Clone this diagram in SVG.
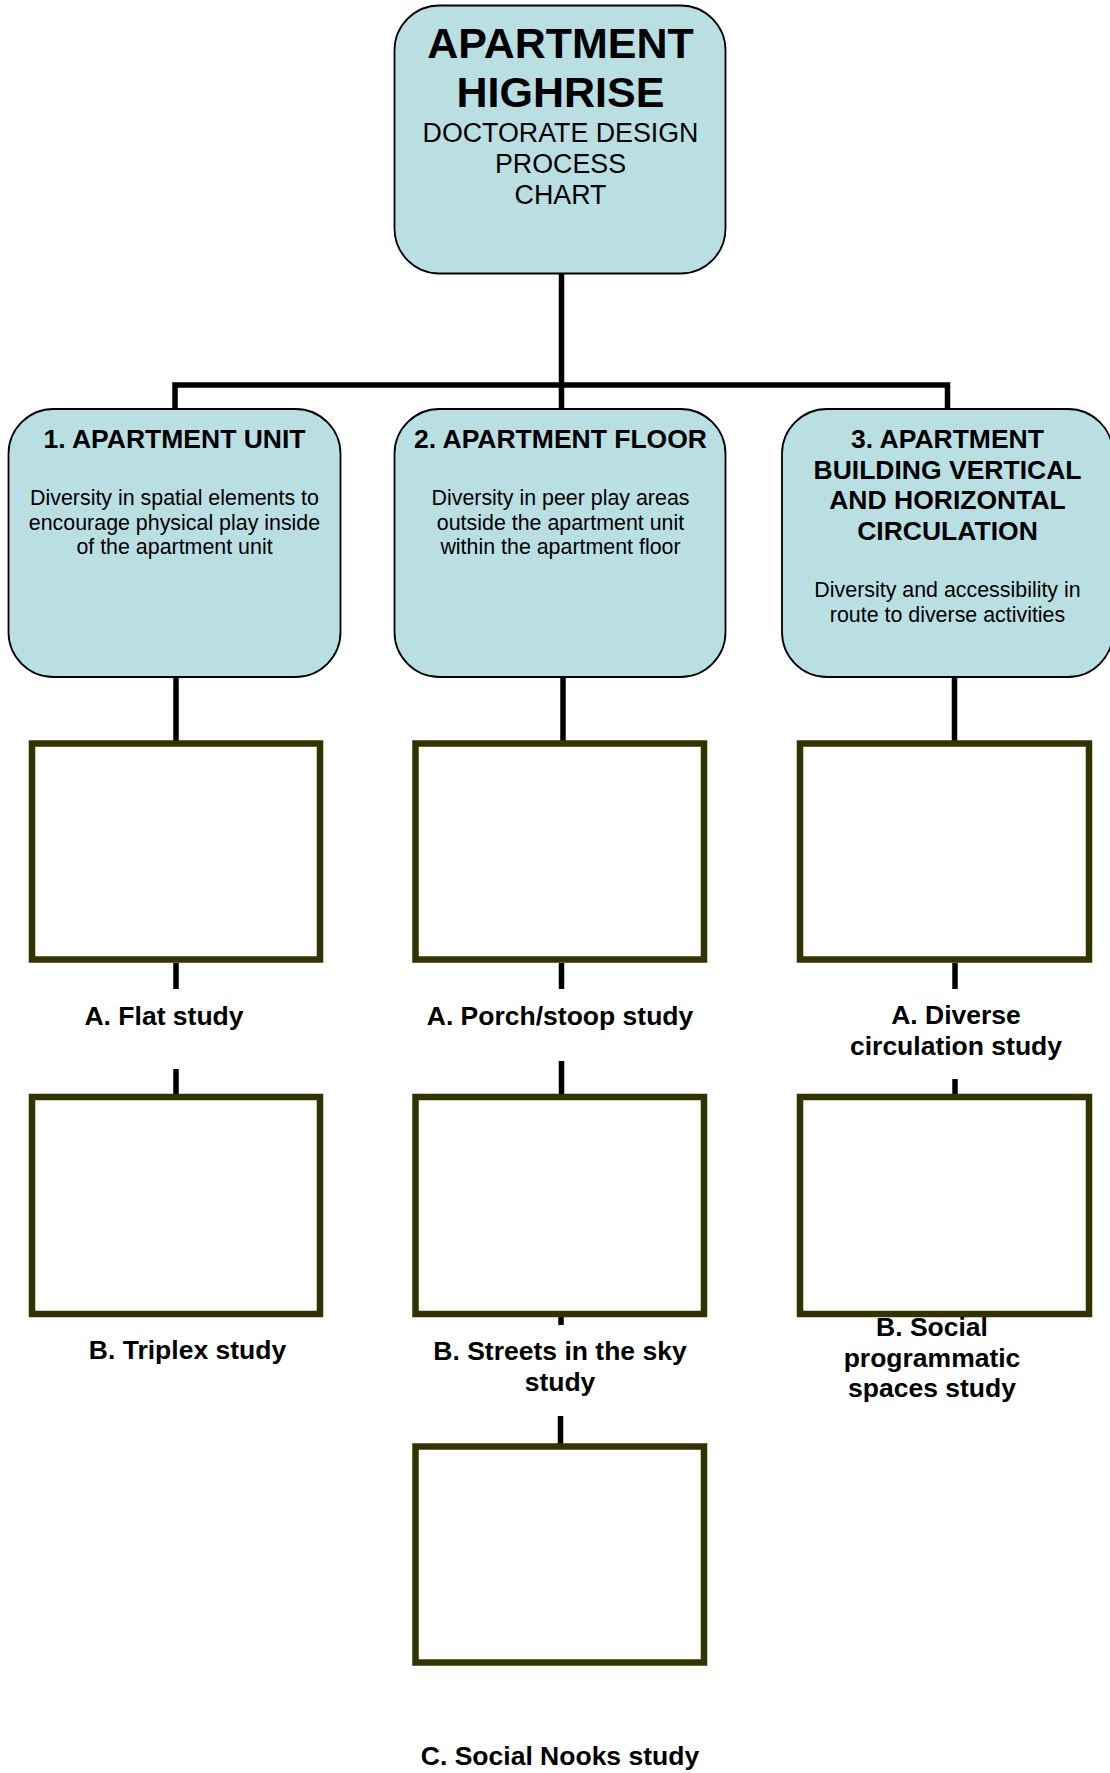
<svg xmlns="http://www.w3.org/2000/svg" width="1110" height="1773" viewBox="0 0 1110 1773">
<style>
.rb{fill:#B9DFE3;stroke:#000;stroke-width:1.8}
.st{fill:none;stroke:#333300;stroke-width:6.5}
.cn{stroke:#000;stroke-width:5.5;fill:none}
text{font-family:"Liberation Sans",Arial,sans-serif;fill:#000;text-anchor:middle}
.big{font-size:43px;font-weight:bold}
.sub{font-size:26.8px}
.ttl{font-size:26.5px;font-weight:bold}
.body{font-size:21.4px}
.lbl{font-size:26.5px;font-weight:bold}
</style>
<rect width="1110" height="1773" fill="#fff"/>
<g id="connectors">
<line class="cn" x1="561.5" y1="274" x2="561.5" y2="409"/>
<polyline class="cn" points="175,409 175,385 947.5,385 947.5,409"/>
<line class="cn" x1="176" y1="677" x2="176" y2="742"/>
<line class="cn" x1="176" y1="963" x2="176" y2="989"/>
<line class="cn" x1="176" y1="1069" x2="176" y2="1095"/>
<line class="cn" x1="563" y1="673" x2="563" y2="742"/>
<line class="cn" x1="561.5" y1="963" x2="561.5" y2="989"/>
<line class="cn" x1="561.5" y1="1061" x2="561.5" y2="1095"/>
<line class="cn" x1="561" y1="1316" x2="561" y2="1325"/>
<line class="cn" x1="560.5" y1="1416" x2="560.5" y2="1444"/>
<line class="cn" x1="954.5" y1="670" x2="954.5" y2="742"/>
<line class="cn" x1="955" y1="963" x2="955" y2="989"/>
<line class="cn" x1="955" y1="1079" x2="955" y2="1095"/>
</g>
<g id="root">
<rect class="rb" x="394.5" y="5.5" width="331" height="268" rx="45"/>
<text class="big" x="560.5" y="58">APARTMENT</text>
<text class="big" x="560.5" y="107">HIGHRISE</text>
<text class="sub" x="560.5" y="142">DOCTORATE DESIGN</text>
<text class="sub" x="560.5" y="173">PROCESS</text>
<text class="sub" x="560.5" y="204">CHART</text>
</g>
<g id="n1">
<rect class="rb" x="8.5" y="409" width="332" height="268" rx="45"/>
<text class="ttl" x="174.5" y="448">1. APARTMENT UNIT</text>
<text class="body" x="174.5" y="505">Diversity in spatial elements to</text>
<text class="body" x="174.5" y="529.5">encourage physical play inside</text>
<text class="body" x="174.5" y="554">of the apartment unit</text>
</g>
<g id="n2">
<rect class="rb" x="394.5" y="409" width="331" height="268" rx="45"/>
<text class="ttl" x="560.5" y="448">2. APARTMENT FLOOR</text>
<text class="body" x="560.5" y="505">Diversity in peer play areas</text>
<text class="body" x="560.5" y="529.5">outside the apartment unit</text>
<text class="body" x="560.5" y="554">within the apartment floor</text>
</g>
<g id="n3">
<rect class="rb" x="782" y="409" width="331" height="268" rx="45"/>
<text class="ttl" x="947.5" y="448">3. APARTMENT</text>
<text class="ttl" x="947.5" y="478.5">BUILDING VERTICAL</text>
<text class="ttl" x="947.5" y="509">AND HORIZONTAL</text>
<text class="ttl" x="947.5" y="539.5">CIRCULATION</text>
<text class="body" x="947.5" y="597">Diversity and accessibility in</text>
<text class="body" x="947.5" y="621.5">route to diverse activities</text>
</g>
<g id="n1a">
<rect class="st" x="32" y="743.5" width="288" height="216"/>
<text class="lbl" x="164" y="1025">A. Flat study</text>
</g>
<g id="n1b">
<rect class="st" x="32" y="1097" width="288" height="217"/>
<text class="lbl" x="187.5" y="1359">B. Triplex study</text>
</g>
<g id="n2a">
<rect class="st" x="415.5" y="743.5" width="288.5" height="216"/>
<text class="lbl" x="560" y="1025">A. Porch/stoop study</text>
</g>
<g id="n2b">
<rect class="st" x="415.5" y="1097" width="288.5" height="217"/>
<text class="lbl" x="560" y="1360">B. Streets in the sky</text>
<text class="lbl" x="560" y="1391">study</text>
</g>
<g id="n2c">
<rect class="st" x="415.5" y="1446.5" width="288.5" height="216"/>
<text class="lbl" x="560" y="1765">C. Social Nooks study</text>
</g>
<g id="n3a">
<rect class="st" x="800" y="743.5" width="289" height="216"/>
<text class="lbl" x="956" y="1024">A. Diverse</text>
<text class="lbl" x="956" y="1055">circulation study</text>
</g>
<g id="n3b">
<rect class="st" x="800" y="1097" width="289" height="217"/>
<text class="lbl" x="932" y="1335.5">B. Social</text>
<text class="lbl" x="932" y="1366.5">programmatic</text>
<text class="lbl" x="932" y="1397">spaces study</text>
</g>
</svg>
